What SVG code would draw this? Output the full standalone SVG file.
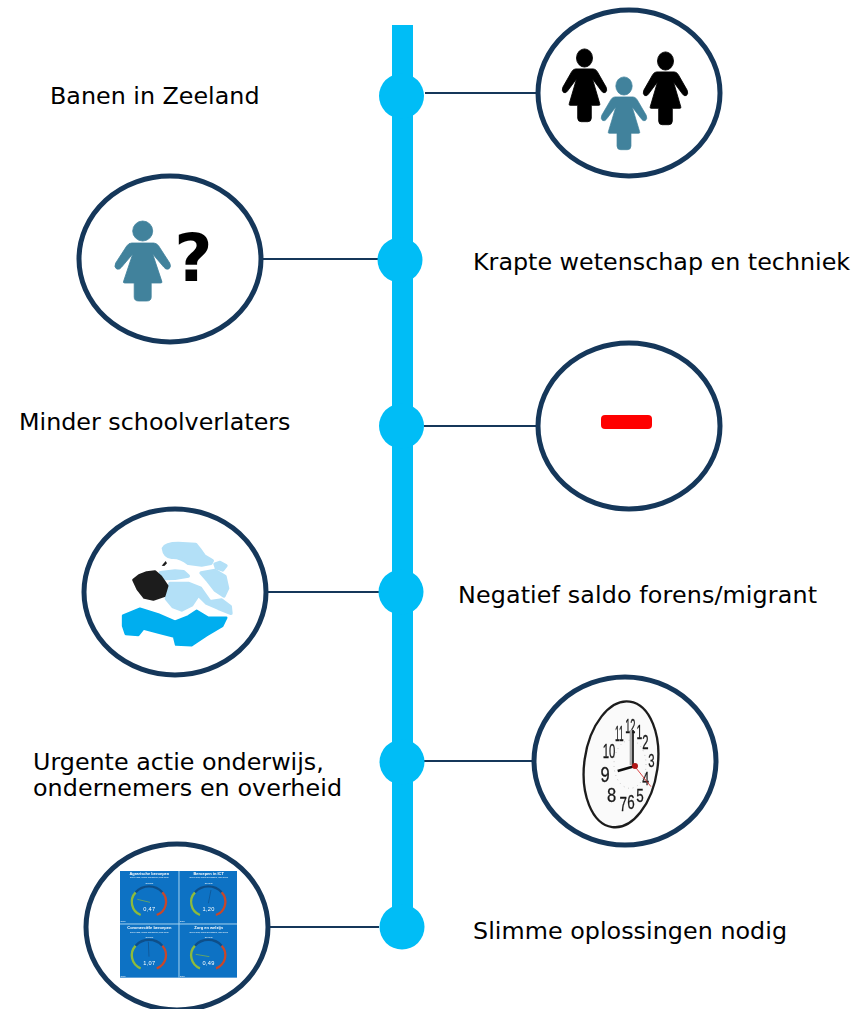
<svg xmlns="http://www.w3.org/2000/svg" xmlns:xlink="http://www.w3.org/1999/xlink" width="867" height="1009" viewBox="0 0 867 1009">
<style>
.lbl{font-family:"DejaVu Sans",Verdana,sans-serif;font-size:23.800px;fill:#000}
.ring{fill:#fff;stroke:#15375a;stroke-width:5}
.dot{fill:#00bdf6}
.con{stroke:#15375a;stroke-width:2;fill:none}
.teal{fill:#41829c;stroke:#41829c;stroke-width:.8}
.blk{fill:#000;stroke:#000;stroke-width:1}
.num{font-family:"Liberation Sans",Arial,sans-serif;font-size:62px;fill:#1a1a1a;stroke:#1a1a1a;stroke-width:1;text-anchor:middle}
.dt{font-family:"Liberation Sans",Arial,sans-serif;fill:#fff;text-anchor:middle}
.t1{font-size:12px;font-weight:bold}
.t2{font-size:6.500px}
.t3{font-size:17px;letter-spacing:1px}
.lt{stroke:#b3e0f7;stroke-width:10;stroke-linejoin:round}
.map{stroke-width:7;stroke-linejoin:round}
</style>
<defs>
<path id="woman" d="M-11 12H11Q14 12 16 15L27 32Q29 36 26 38Q23 39 21 36L10 23L19 50Q20 52 18 52H8.500V66Q8.500 70 4 70H-4Q-8.500 70-8.500 66V52H-18Q-20 52-19 50L-10 23L-21 36Q-23 39-26 38Q-29 36-27 32L-16 15Q-14 12-11 12Z"/>
<g id="person"><circle r="10"/><use xlink:href="#woman" href="#woman"/></g>
<g id="gauge" fill="none" stroke-width="7">
<path d="M62 132A42 42 0 0 1 47 64" stroke="#8dbb3c"/>
<path d="M47 64A54 54 0 0 1 127 64" stroke="#0b4f8a"/>
<path d="M127 64A42 42 0 0 1 110 132" stroke="#c8472a"/>
</g>
<filter id="soft" x="-5%" y="-5%" width="110%" height="110%"><feGaussianBlur stdDeviation="1.200"/></filter>
</defs>

<g id="spine">
<rect x="392" y="25" width="21" height="900" fill="#00bdf6"/>
</g>

<g id="connectors">
<line class="con" x1="425" y1="93" x2="537" y2="93"/>
<line class="con" x1="262" y1="259" x2="378" y2="259"/>
<line class="con" x1="424" y1="426" x2="538" y2="426"/>
<line class="con" x1="267" y1="592" x2="379" y2="592"/>
<line class="con" x1="424" y1="761" x2="533" y2="761"/>
<line class="con" x1="270" y1="927" x2="379" y2="927"/>
</g>

<g id="dots">
<circle class="dot" cx="401.500" cy="96" r="22.500"/>
<circle class="dot" cx="400" cy="260" r="22.500"/>
<circle class="dot" cx="401.500" cy="426" r="22.500"/>
<circle class="dot" cx="401" cy="592" r="22.500"/>
<circle class="dot" cx="402" cy="762" r="22.500"/>
<circle class="dot" cx="402" cy="927" r="22.500"/>
</g>

<g id="node-banen">
<text class="lbl" x="50" y="104">Banen in Zeeland</text>
<ellipse class="ring" cx="629" cy="93" rx="91" ry="83"/>
<use xlink:href="#person" href="#person" class="blk" transform="translate(584.500 58) scale(.8 .91)"/>
<use xlink:href="#person" href="#person" class="blk" transform="translate(665.500 61) scale(.8 .91)"/>
<use xlink:href="#person" href="#person" class="teal" transform="translate(624 86) scale(.82 .91)"/>
</g>

<g id="node-krapte">
<text class="lbl" x="473" y="270">Krapte wetenschap en techniek</text>
<ellipse class="ring" cx="170" cy="259" rx="91" ry="83"/>
<use xlink:href="#person" href="#person" class="teal" transform="translate(142.700 231)"/>
<text x="193.500" y="281" font-family="DejaVu Sans,sans-serif" font-weight="bold" font-size="66" text-anchor="middle">?</text>
</g>

<g id="node-schoolverlaters">
<text class="lbl" x="19" y="430">Minder schoolverlaters</text>
<ellipse class="ring" cx="629" cy="426" rx="91" ry="83"/>
<rect x="601" y="415" width="51" height="14" rx="4" fill="#fe0000"/>
</g>

<g id="node-saldo">
<text class="lbl" x="458" y="603" textLength="359">Negatief saldo forens/migrant</text>
<ellipse class="ring" cx="175" cy="592" rx="91" ry="83"/>
<g transform="translate(75 500) scale(.33333)" filter="url(#soft)">
<g fill="#b3e0f7" class="lt">
<path d="M265 145Q272 130 310 130L362 133Q375 148 388 168L412 182L408 190L380 195L340 190Q315 170 290 172Q268 170 265 145Z"/>
<path d="M420 192L435 187L453 197L443 210L424 204Z"/>
<path d="M256 218L300 213L326 215L340 228L300 235L270 236Z"/>
<path d="M378 219L420 211L450 229L458 265L447 288L420 270L399 243Z"/>
<path d="M285 250L340 250L376 264L405 305L440 300L466 320L468 340L430 325L395 310L370 285L350 315L320 330L294 320L274 296Z"/>
</g>
<path d="M175 240L192 226L215 217L240 214L258 230L277 258L268 288L235 299L208 293L188 268Z" fill="#1c1c1c" stroke="#1c1c1c" class="map"/>
<path d="M260 197L272 183L276 190L268 198Z" fill="#1c1c1c"/>
<path d="M144 347L195 326L250 343L300 365L340 349L365 332L400 353L454 353L442 378L395 406L350 436L303 434L297 410L250 398L205 386L190 405L152 402L144 378Z" fill="#00aeef" stroke="#00aeef" class="map"/>
</g>
</g>

<g id="node-actie">
<text class="lbl" x="33" y="770">Urgente actie onderwijs,</text>
<text class="lbl" x="33" y="796" textLength="309">ondernemers en overheid</text>
<ellipse class="ring" cx="625" cy="761" rx="91" ry="84"/>
<g transform="translate(525 670) scale(.33333)" filter="url(#soft)">
<ellipse cx="288" cy="283" rx="110" ry="190" transform="rotate(8 288 283)" fill="#fafafa" stroke="#1d1d1d" stroke-width="7"/>
<ellipse cx="315" cy="283" rx="48" ry="72" fill="none" stroke="#888" stroke-width="2" stroke-dasharray="2 12"/>
<text class="num" transform="translate(316 190) scale(.45 1)">12</text>
<text class="num" transform="translate(343 207) scale(.5 1)">1</text>
<text class="num" transform="translate(361 238) scale(.55 1)">2</text>
<text class="num" transform="translate(379 292) scale(.55 .85)">3</text>
<text class="num" transform="translate(362 345) scale(.6 .85)">4</text>
<text class="num" transform="translate(345 395) scale(.65 .85)">5</text>
<text class="num" transform="translate(318 417) scale(.65 1)">6</text>
<text class="num" transform="translate(295 424) scale(.65 1)">7</text>
<text class="num" transform="translate(260 395) scale(.8 1)">8</text>
<text class="num" transform="translate(240 337) scale(.8 1.100)">9</text>
<text class="num" transform="translate(252 264) scale(.55 1)">10</text>
<text class="num" transform="translate(283 212) scale(.4 1.050)">11</text>
<line x1="318" y1="180" x2="318" y2="285" stroke="#aaa" stroke-width="8"/>
<line x1="324" y1="180" x2="324" y2="288" stroke="#111" stroke-width="5"/>
<line x1="330" y1="288" x2="278" y2="303" stroke="#111" stroke-width="8"/>
<line x1="330" y1="290" x2="378" y2="350" stroke="#d42020" stroke-width="2.500"/>
<circle cx="330" cy="288" r="9" fill="#b01818"/>
</g>
</g>

<g id="node-oplossingen">
<text class="lbl" x="473" y="939" textLength="314">Slimme oplossingen nodig</text>
<ellipse class="ring" cx="177" cy="927" rx="91" ry="83"/>
<g transform="translate(75 835) scale(.33333)" filter="url(#soft)">
<rect x="135" y="108" width="351" height="320" fill="#0b72c4"/>
<g transform="translate(135 108)">
<text class="dt t1" x="88" y="11">Agrarische beroepen</text>
<text class="dt t2" x="88" y="22">groen laag, blauw gemiddeld, rood hoog</text>
<text class="dt t2" x="88" y="38">Zeeland</text>
<use xlink:href="#gauge" href="#gauge"/>
<line x1="90" y1="94" x2="52" y2="85" stroke="#8dbb3c" stroke-width="2"/>
<text class="dt t3" x="88" y="119">0,47</text>
<text class="dt t2" x="9" y="152">2015</text>
</g>
<g transform="translate(313 108)">
<text class="dt t1" x="88" y="11">Beroepen in ICT</text>
<text class="dt t2" x="88" y="22">groen laag, blauw gemiddeld, rood hoog</text>
<text class="dt t2" x="88" y="38">Zeeland</text>
<use xlink:href="#gauge" href="#gauge"/>
<line x1="87" y1="97" x2="95" y2="57" stroke="#0b4f8a" stroke-width="2"/>
<text class="dt t3" x="88" y="119">1,20</text>
<text class="dt t2" x="9" y="152">2015</text>
</g>
<g transform="translate(135 268)">
<text class="dt t1" x="88" y="15">Commerciële beroepen</text>
<text class="dt t2" x="88" y="25">groen laag, blauw gemiddeld, rood hoog</text>
<text class="dt t2" x="88" y="41">Zeeland</text>
<use xlink:href="#gauge" href="#gauge"/>
<line x1="87" y1="97" x2="85" y2="52" stroke="#0b4f8a" stroke-width="2"/>
<text class="dt t3" x="88" y="122">1,07</text>
<text class="dt t2" x="9" y="157">2015</text>
</g>
<g transform="translate(313 268)">
<text class="dt t1" x="88" y="15">Zorg en welzijn</text>
<text class="dt t2" x="88" y="25">groen laag, blauw gemiddeld, rood hoog</text>
<text class="dt t2" x="88" y="41">Zeeland</text>
<use xlink:href="#gauge" href="#gauge"/>
<line x1="90" y1="97" x2="49" y2="90" stroke="#8dbb3c" stroke-width="2"/>
<text class="dt t3" x="88" y="122">0,49</text>
<text class="dt t2" x="9" y="157">2015</text>
</g>
<line x1="312" y1="108" x2="312" y2="428" stroke="#a8d4ef" stroke-width="3"/>
<line x1="135" y1="267" x2="486" y2="267" stroke="#a8d4ef" stroke-width="3"/>
</g>
</g>
</svg>
